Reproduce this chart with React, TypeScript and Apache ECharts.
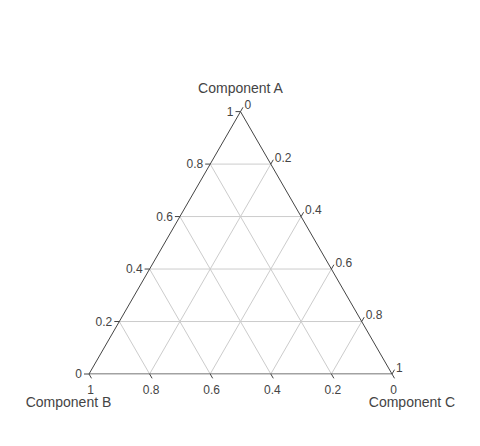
import React, { useEffect, useRef } from "react";
import * as echarts from "echarts";

const tickValues = [0, 0.2, 0.4, 0.6, 0.8, 1];
const tickLabels = ["0", "0.2", "0.4", "0.6", "0.8", "1"];
const axisTitles = ["Component A", "Component B", "Component C"];
// vertices as ternary (a, b, c)
const vertices = [
  [0, 1, 0],
  [0, 0, 1],
  [1, 0, 0],
  [0, 1, 0],
];

const H = Math.sqrt(3) / 2;
const toXY = (a: number, b: number, c: number) => [c + a / 2, a * H];

const FONT = "Liberation Sans, Arial, sans-serif";
const TEXT = "#444";
const TICK_LEN = 5;

export default function App() {
  const ref = useRef<HTMLDivElement>(null);
  useEffect(() => {
    if (!ref.current) return;
    const chart = echarts.init(ref.current, undefined, { renderer: "svg" });

    const gridRender = (params: any, api: any) => {
      const t = tickValues[params.dataIndex];
      if (t === 0 || t === 1) return { type: "group", children: [] };
      const segs = [
        [toXY(t, 1 - t, 0), toXY(t, 0, 1 - t)],
        [toXY(0, t, 1 - t), toXY(1 - t, t, 0)],
        [toXY(0, 1 - t, t), toXY(1 - t, 0, t)],
      ];
      return {
        type: "group",
        children: segs.map(([p, q]) => {
          const P = api.coord(p);
          const Q = api.coord(q);
          return {
            type: "line",
            shape: { x1: P[0], y1: P[1], x2: Q[0], y2: Q[1] },
            style: { stroke: "#cccccc", lineWidth: 1 },
          };
        }),
      };
    };

    const tickRender = (params: any, api: any) => {
      const i = params.dataIndex;
      const t = tickValues[i];
      const label = tickLabels[i];
      const children: any[] = [];
      // A axis (left edge): point a=t, b=1-t, c=0; tick to the left
      const A = api.coord(toXY(t, 1 - t, 0));
      children.push({
        type: "line",
        shape: { x1: A[0], y1: A[1], x2: A[0] - TICK_LEN, y2: A[1] },
        style: { stroke: TEXT, lineWidth: 1 },
      });
      children.push({
        type: "text",
        x: A[0] - TICK_LEN - 2,
        y: A[1],
        style: { text: label, fill: TEXT, font: `12px ${FONT}`, align: "right", verticalAlign: "middle" },
      });
      // B axis (bottom edge): b=t, c=1-t; tick down-right
      const B = api.coord(toXY(0, t, 1 - t));
      children.push({
        type: "line",
        shape: { x1: B[0], y1: B[1], x2: B[0] + TICK_LEN * 0.5, y2: B[1] + TICK_LEN * H },
        style: { stroke: TEXT, lineWidth: 1 },
      });
      children.push({
        type: "text",
        x: B[0] + 1.5,
        y: B[1] + 10,
        style: { text: label, fill: TEXT, font: `12px ${FONT}`, align: "center", verticalAlign: "top" },
      });
      // C axis (right edge): c=t, a=1-t; tick up-right
      const C = api.coord(toXY(1 - t, 0, t));
      const cx = C[0] + TICK_LEN * 0.5;
      const cy = C[1] - TICK_LEN * H;
      children.push({
        type: "line",
        shape: { x1: C[0], y1: C[1], x2: cx, y2: cy },
        style: { stroke: TEXT, lineWidth: 1 },
      });
      children.push({
        type: "text",
        x: cx + 1.5,
        y: cy - 2,
        style: { text: label, fill: TEXT, font: `12px ${FONT}`, align: "left", verticalAlign: "middle" },
      });
      return { type: "group", children };
    };

    chart.setOption({
      animation: false,
      backgroundColor: "#ffffff",
      grid: { left: 89, right: 88, top: 111.6, bottom: 72 },
      xAxis: { type: "value", min: 0, max: 1, show: false },
      yAxis: { type: "value", min: 0, max: H, show: false },
      graphic: [
        {
          type: "text",
          x: 240.5,
          y: 88,
          style: { text: axisTitles[0], fill: TEXT, font: `14px ${FONT}`, align: "center", verticalAlign: "middle" },
        },
        {
          type: "text",
          x: 68.5,
          y: 402,
          style: { text: axisTitles[1], fill: TEXT, font: `14px ${FONT}`, align: "center", verticalAlign: "middle" },
        },
        {
          type: "text",
          x: 412,
          y: 402,
          style: { text: axisTitles[2], fill: TEXT, font: `14px ${FONT}`, align: "center", verticalAlign: "middle" },
        },
      ],
      series: [
        {
          type: "custom",
          renderItem: gridRender,
          data: tickValues.map((v) => [v]),
          silent: true,
          z: 1,
        },
        {
          type: "line",
          data: vertices.map(([a, b, c]) => toXY(a, b, c)),
          symbol: "none",
          lineStyle: { color: TEXT, width: 1 },
          silent: true,
          z: 2,
        },
        {
          type: "custom",
          renderItem: tickRender,
          data: tickValues.map((v) => [v]),
          silent: true,
          z: 3,
        },
      ],
    });
    return () => chart.dispose();
  }, []);
  return <div ref={ref} style={{ position: "fixed", left: 0, top: 0, width: 480, height: 446 }} />;
}
